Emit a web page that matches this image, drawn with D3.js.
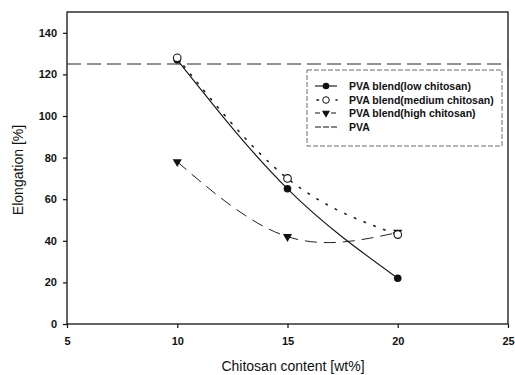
<!DOCTYPE html>
<html><head><meta charset="utf-8">
<script src="https://cdn.jsdelivr.net/npm/d3@7"></script>
<style>body{margin:0;background:#fff}svg{display:block;font-family:"Liberation Sans",Arial,sans-serif}</style>
</head><body><svg id="c" width="515" height="375"></svg>
<script>
const xCats = [10, 15, 20];
const lowChitosan = [127, 65, 22];
const mediumChitosan = [128, 70, 43];
const highChitosan = [78, 42, 44];
const pvaValue = 125;
const xTicks = [5, 10, 15, 20, 25];
const yTicks = [0, 20, 40, 60, 80, 100, 120, 140];
const legendLabels = ["PVA blend(low chitosan)", "PVA blend(medium chitosan)", "PVA blend(high chitosan)", "PVA"];

const svg = d3.select("#c");
const L = 67, R = 508, T = 12, B = 324;
const x = d3.scaleLinear().domain([5, 25]).range([L, R]);
const y = d3.scaleLinear().domain([0, 150]).range([B, T]);

svg.append("rect").attr("x", L).attr("y", T).attr("width", R - L).attr("height", B - T)
  .attr("fill", "none").attr("stroke", "#111").attr("stroke-width", 1.3);

const xa = svg.append("g").attr("transform", `translate(0,${B})`)
  .call(d3.axisBottom(x).tickValues(xTicks).tickSize(4).tickPadding(9).tickFormat(d3.format("d")));
const ya = svg.append("g").attr("transform", `translate(${L},0)`)
  .call(d3.axisLeft(y).tickValues(yTicks).tickSize(4).tickPadding(6).tickFormat(d3.format("d")));
[xa, ya].forEach(a => {
  a.select(".domain").remove();
  a.selectAll("line").attr("stroke", "#111").attr("stroke-width", 1.2);
  a.selectAll("text").attr("font-size", 11).attr("font-weight", "bold").attr("fill", "#111")
    .attr("font-family", "'Liberation Sans',Arial,sans-serif");
});

svg.append("text").attr("x", 293).attr("y", 371).attr("text-anchor", "middle")
  .attr("font-size", 14).attr("fill", "#111").text("Chitosan content [wt%]");
svg.append("text").attr("transform", "translate(23,170) rotate(-90)").attr("text-anchor", "middle")
  .attr("font-size", 14).attr("fill", "#111").text("Elongation [%]");

// PVA reference line
svg.append("line").attr("x1", L).attr("x2", R).attr("y1", y(pvaValue)).attr("y2", y(pvaValue))
  .attr("stroke", "#222").attr("stroke-width", 1).attr("stroke-dasharray", "14,6");

const line = d3.line().x((d, i) => x(xCats[i])).y(d => y(d)).curve(d3.curveNatural);
svg.append("path").datum(highChitosan).attr("d", line).attr("fill", "none")
  .attr("stroke", "#222").attr("stroke-width", 1).attr("stroke-dasharray", "12,7");
svg.append("path").datum(mediumChitosan).attr("d", line).attr("fill", "none")
  .attr("stroke", "#222").attr("stroke-width", 1.6).attr("stroke-dasharray", "1.5,9").attr("stroke-linecap", "round");
svg.append("path").datum(lowChitosan).attr("d", line).attr("fill", "none")
  .attr("stroke", "#111").attr("stroke-width", 1.1);

const tri = d3.symbol().type(d3.symbolTriangle).size(36);
svg.selectAll(".hi").data(highChitosan).enter().append("path")
  .attr("d", tri).attr("transform", (d, i) => `translate(${x(xCats[i])},${y(d)}) rotate(180)`).attr("fill", "#111");
svg.selectAll(".lo").data(lowChitosan).enter().append("circle")
  .attr("cx", (d, i) => x(xCats[i])).attr("cy", d => y(d)).attr("r", 3.8).attr("fill", "#111");
svg.selectAll(".me").data(mediumChitosan).enter().append("circle")
  .attr("cx", (d, i) => x(xCats[i])).attr("cy", d => y(d)).attr("r", 3.8).attr("fill", "#fff")
  .attr("stroke", "#111").attr("stroke-width", 1.1);

// Legend
const lg = svg.append("g");
lg.append("rect").attr("x", 307).attr("y", 70).attr("width", 195).attr("height", 76)
  .attr("fill", "#fff").attr("stroke", "#444").attr("stroke-width", 0.8).attr("stroke-dasharray", "5,2");
const rowsY = [86, 100, 113, 127];
const sx1 = 315, sx2 = 337, sm = 326;
legendLabels.forEach((t, i) => {
  const yy = rowsY[i];
  const ln = lg.append("line").attr("x1", sx1).attr("x2", sx2).attr("y1", yy).attr("y2", yy).attr("stroke", "#111");
  if (i === 0) ln.attr("stroke-width", 1.1);
  if (i === 1) ln.attr("stroke-width", 1.6).attr("stroke-dasharray", "1.5,8").attr("stroke-linecap", "round").attr("x1", sx1 + 2);
  if (i === 2) ln.attr("stroke-dasharray", "5,3");
  if (i === 3) ln.attr("stroke-dasharray", "6,2");
  if (i === 0) lg.append("circle").attr("cx", sm).attr("cy", yy).attr("r", 3.3).attr("fill", "#111");
  if (i === 1) lg.append("circle").attr("cx", sm).attr("cy", yy).attr("r", 3.3).attr("fill", "#fff").attr("stroke", "#111");
  if (i === 2) lg.append("path").attr("d", d3.symbol().type(d3.symbolTriangle).size(28)).attr("transform", `translate(${sm},${yy}) rotate(180)`).attr("fill", "#111");
  lg.append("text").attr("x", 349).attr("y", yy + 4).attr("font-size", 10.5).attr("font-weight", "bold")
    .attr("fill", "#111").text(t);
});
</script></body></html>
